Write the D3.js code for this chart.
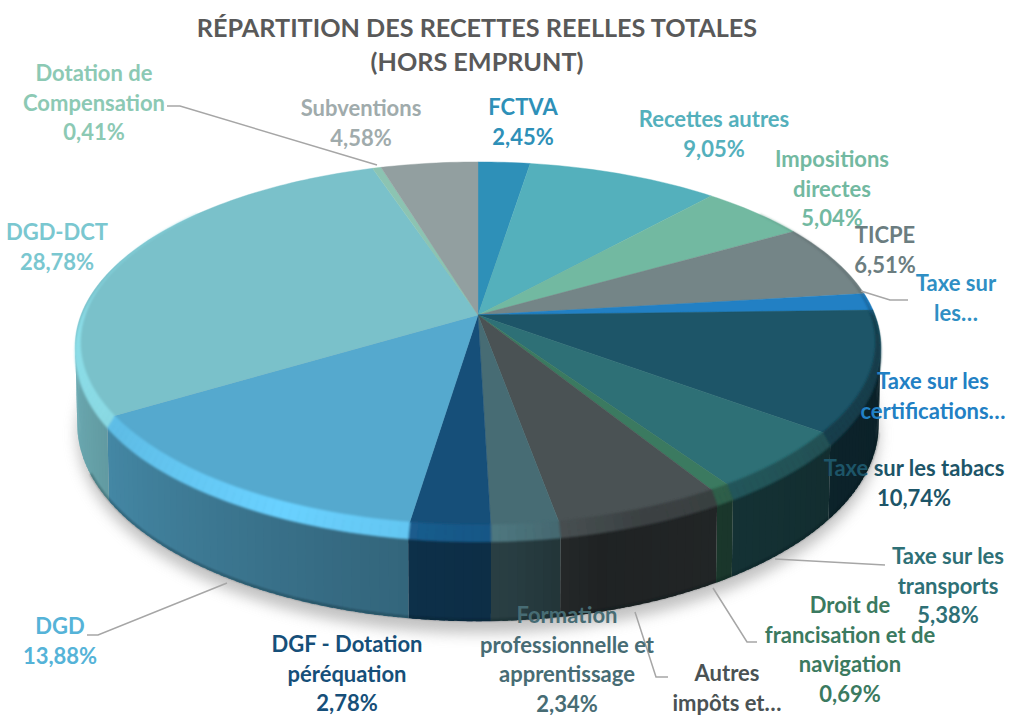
<!DOCTYPE html>
<html><head><meta charset="utf-8">
<script src="https://cdnjs.cloudflare.com/ajax/libs/d3/7.8.5/d3.min.js"></script>
<style>html,body{margin:0;padding:0;background:#fff}svg{display:block}text{font-family:Lato,"Open Sans",sans-serif;font-weight:700}</style>
</head><body><svg id="c" width="1011" height="715"></svg>
<script>
const titleLines = ["RÉPARTITION DES RECETTES REELLES TOTALES", "(HORS EMPRUNT)"];
const categories = ["FCTVA","Recettes autres","Impositions directes","TICPE","Taxe sur les…","Taxe sur les certifications…","Taxe sur les tabacs","Taxe sur les transports","Droit de francisation et de navigation","Autres impôts et…","Formation professionnelle et apprentissage","DGF - Dotation péréquation","DGD","DGD-DCT","Dotation de Compensation","Subventions"];
const values = [2.45,9.05,5.04,6.51,1.5,0.01,10.74,5.38,0.69,5.85,2.34,2.78,13.88,28.78,0.41,4.58];
const valueLabels = ["2,45%","9,05%","5,04%","6,51%","","","10,74%","5,38%","0,69%","","2,34%","2,78%","13,88%","28,78%","0,41%","4,58%"];
const labelLines = [["FCTVA"],["Recettes autres"],["Impositions","directes"],["TICPE"],["Taxe sur","les…"],["Taxe sur les","certifications…"],["Taxe sur les tabacs"],["Taxe sur les","transports"],["Droit de","francisation et de","navigation"],["Autres","impôts et…"],["Formation","professionnelle et","apprentissage"],["DGF - Dotation","péréquation"],["DGD"],["DGD-DCT"],["Dotation de","Compensation"],["Subventions"]];
const colors = ["#2e90b8","#54b0bc","#72b9a1","#748587","#2280c4","#2280c4","#1d5568","#2e7076","#3b7a60","#4a5254","#476c74","#164f79","#55a9ce","#7ac1ca","#8cc4b2","#929fa0"];
const labelColors = ["#2e90b8","#54b0bc","#72b9a1","#6b7d80","#2f8fc4","#2280c4","#1d5568","#2e7076","#3b7a60","#4a5254","#476c74","#164f79","#55b3d8","#7ac7d0","#8cc9b4","#a0abac"];
const labelAnchor = [[523,115],[714,127],[832,167],[885,243],[956,291],[933,389],[914,476],[948,564],[850,613],[727,681],[567,623],[347,652],[60,634],[57,240],[94,81],[361,116]];
const leaders = [
 [[167,106],[180,106],[377,165]],
 [[861,291],[890,300],[908,300]],
 [[87,635],[98,635],[227,583]],
 [[775,559],[885,565]],
 [[713,588],[747,642],[757,642]],
 [[635,612],[656,677],[668,677]]
];

const svg = d3.select("#c");
const defs = svg.append("defs");
defs.append("filter").attr("id","sh").attr("x","-10%").attr("y","-10%").attr("width","120%").attr("height","130%")
  .append("feGaussianBlur").attr("stdDeviation",7);
defs.append("filter").attr("id","bv").attr("x","-5%").attr("y","-5%").attr("width","110%").attr("height","110%")
  .append("feGaussianBlur").attr("stdDeviation",1.3);

const cx=478, cy=315, R=397, S=178.8, k=0.168, depth=76;
const deg=Math.PI/180;
function proj(a,r=1,dz=0,xs=1){
  const u=r*Math.sin(a), v=-r*Math.cos(a), w=1-k*v;
  return [cx+R*xs*u/w, cy+S*v/w+dz/w];
}
const pieGen=d3.pie().sort(null).value(d=>d);
const arcs=pieGen(values);
const line=d3.line();
const step=1.2*deg;
function range(a0,a1){const n=Math.max(1,Math.ceil((a1-a0)/step));return d3.range(n+1).map(i=>a0+(a1-a0)*i/n);}
function shade(c,f){const q=d3.rgb(c);return d3.rgb(Math.min(255,q.r*f),Math.min(255,q.g*f),Math.min(255,q.b*f)).formatHex();}

const sideShade=d3.scaleLinear().domain([95,130,150,165,176,195,255,265].map(d=>d*deg)).range([.38,.41,.45,.42,.57,.62,.87,.87]).clamp(true);
const rimShade=d3.scaleLinear().domain([0,60,90,130,160,178,190,205,235,270,300,360].map(d=>d*deg)).range([.9,.8,.72,.72,.8,1.1,1.18,1.24,1.12,1.16,1.1,1]).clamp(true);
const aVis0=Math.acos(-k), aVis1=2*Math.PI-Math.acos(-k);

// shadow
const sil=d3.range(0,361,3).map(d=>proj(d*deg,1,depth+10,.995));
svg.append("path").attr("d",line(sil)+"Z").attr("fill","#9a9a9a").attr("opacity",.6).attr("filter","url(#sh)");

// side wall
const sideG=svg.append("g");
arcs.forEach((s,i)=>{
  const a0=Math.max(s.startAngle,aVis0), a1=Math.min(s.endAngle,aVis1);
  if(a1<=a0) return;
  const rs=range(a0,a1);
  const segs=[];
  for(let j=0;j<rs.length-1;j++){
    const mid=(rs[j]+rs[j+1])/2, col=shade(colors[i],sideShade(mid));
    const e=Math.min(a1,rs[j+1]+step*.6);
    segs.push({col,poly:[proj(rs[j]),proj(e),proj(e,1,depth,.995),proj(rs[j],1,depth,.995)]});
  }
  segs.forEach(g=>sideG.append("path").attr("d",line(g.poly)+"Z").attr("fill",g.col));
});
// dark lower edge
svg.append("path").attr("d",line(range(aVis0+.05,aVis1-.25).map(a=>proj(a,1,depth-1,.995)))).attr("fill","none")
  .attr("stroke","#06141c").attr("stroke-width",1.6).attr("opacity",.45).attr("filter","url(#bv)");

// top face
svg.append("g").selectAll("path").data(arcs).join("path")
  .attr("d",s=>line([[cx,cy],...range(s.startAngle,s.endAngle).map(a=>proj(a))])+"Z")
  .attr("fill",(s,i)=>colors[i]).attr("stroke",(s,i)=>colors[i]).attr("stroke-width",.4);

// rim bevel
const rimG=svg.append("g").attr("filter","url(#bv)");
const tt=a=>Math.max(0,Math.min(1,(0.62-Math.cos(a))/1.25));
arcs.forEach((s,i)=>{
  const rs=range(s.startAngle,s.endAngle);
  for(let j=0;j<rs.length-1;j++){
    const a0=rs[j],a1=rs[j+1],m=(a0+a1)/2;
    if(tt(m)<=0) continue;
    const col=shade(colors[i],rimShade(m));
    const poly=[proj(a0,1-.02*tt(a0)),proj(a1,1-.02*tt(a1)),proj(a1,1,10*tt(a1)),proj(a0,1,10*tt(a0))];
    rimG.append("path").attr("d",line(poly)+"Z").attr("fill",col).attr("stroke",col).attr("stroke-width",.5);
  }
});

// leaders
svg.append("g").selectAll("path").data(leaders).join("path").attr("d",d=>line(d))
  .attr("fill","none").attr("stroke","#a6a6a6").attr("stroke-width",1.5);

// title
svg.append("g").selectAll("text").data(titleLines).join("text")
  .attr("x",477).attr("y",(d,i)=>37+i*34).attr("text-anchor","middle")
  .attr("font-size",25.2).attr("fill","#595959").text(d=>d);

// labels
const lh=29.5;
categories.forEach((c,i)=>{
  const [x,y]=labelAnchor[i];
  const lines=valueLabels[i]?[...labelLines[i],valueLabels[i]]:labelLines[i];
  lines.forEach((t,j)=>{
    svg.append("text").attr("x",x).attr("y",y+j*lh).attr("text-anchor","middle")
      .attr("font-size",22).attr("fill",labelColors[i]).text(t);
  });
});
</script></body></html>
